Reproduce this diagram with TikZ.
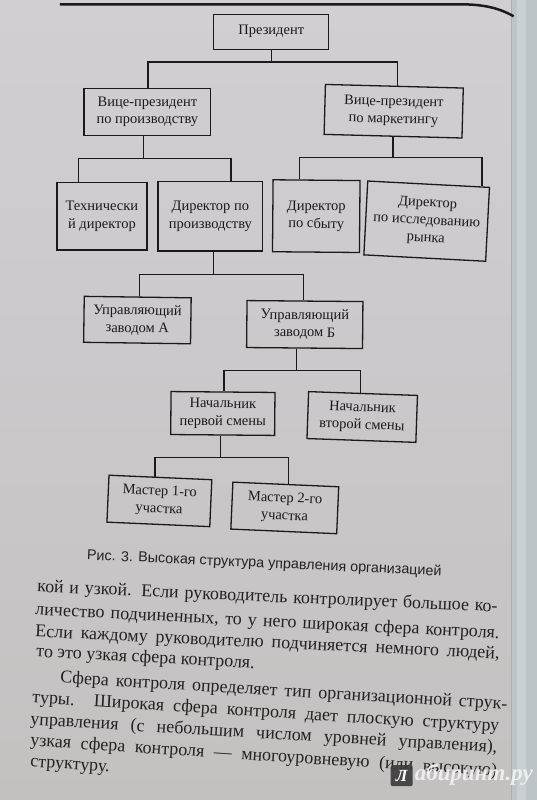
\documentclass[tikz,border=0pt]{standalone}
\usepackage{fontspec}
\usepackage{graphicx}
\setmainfont{Liberation Serif}
\newfontfamily\capfont{Liberation Sans}
\usetikzlibrary{calc}
\definecolor{inkc}{HTML}{1A1A1A}
\definecolor{txtc}{HTML}{222222}
\definecolor{papertop}{HTML}{D2CFD4}
\definecolor{papermid}{HTML}{D9DFE3}
\definecolor{paperbot}{HTML}{C3C1C0}
\definecolor{edgec}{HTML}{BCC4C7}
\definecolor{edgelight}{HTML}{C8D0D2}
\definecolor{edgeline}{HTML}{A8B0B3}
\definecolor{wmdark}{HTML}{3A3A3A}
\definecolor{wmlight}{HTML}{EEEEEE}
\begin{document}
\begin{tikzpicture}[x=1pt,y=1pt,
  box/.style={draw=inkc, line width=1.3pt, align=center, inner sep=0pt,
    font=\fontsize{14.5}{17.5}\selectfont, text=inkc},
  conn/.style={draw=inkc, line width=1.3pt},
  bodyline/.style={anchor=base west, inner sep=0pt,
    font=\fontsize{18}{22}\selectfont, text=txtc}]
% paper
\shade[top color=papertop, middle color=papermid, bottom color=paperbot] (0,0) rectangle (537,-800);
\fill[edgec] (512,0) rectangle (537,-800);
\fill[edgelight] (517,0) rectangle (526,-800);
\draw[edgeline, line width=0.6pt] (512,0) -- (512,-800);
\useasboundingbox (0,0) rectangle (537,-800);
% top rule
\draw[inkc, line width=2.5pt] (60,-4) -- (460,-4) .. controls (485,-4) and (500,-8) .. (514,-16);
% boxes
\node[box, minimum width=115pt, minimum height=35pt] (pres) at (271.5,-31.5) {Президент};
\node[box, minimum width=127pt, minimum height=47pt] (vp1) at (147.5,-111.5) {Вице-президент\\по производству};
\node[box, minimum width=138pt, minimum height=50pt, rotate=-1.5] (vp2) at (394,-111) {Вице-президент\\по маркетингу};
\node[box, minimum width=90pt, minimum height=68pt] (td) at (102,-216) {Технически\\й директор};
\node[box, minimum width=105pt, minimum height=70pt] (dp) at (210.5,-216) {Директор по\\производству};
\node[box, minimum width=87pt, minimum height=72pt, rotate=-0.5] (ds) at (316.5,-216) {Директор\\по сбыту};
\node[box, minimum width=122pt, minimum height=74pt, rotate=-3] (dr) at (427,-221) {Директор\\по исследованию\\рынка};
\node[box, minimum width=107pt, minimum height=46pt, rotate=-0.8] (ma) at (137.5,-320) {Управляющий\\заводом А};
\node[box, minimum width=116pt, minimum height=47pt, rotate=-0.5] (mb) at (305,-324.5) {Управляющий\\заводом Б};
\node[box, minimum width=104pt, minimum height=43pt, rotate=-0.5] (n1) at (223,-413.5) {Начальник\\первой смены};
\node[box, minimum width=109pt, minimum height=47pt, rotate=-2] (n2) at (362.5,-417) {Начальник\\второй смены};
\node[box, minimum width=103pt, minimum height=47pt, rotate=-2.5] (m1) at (159.5,-501) {Мастер 1-го\\участка};
\node[box, minimum width=106pt, minimum height=47pt, rotate=-2.5] (m2) at (285,-508) {Мастер 2-го\\участка};
% connectors
\draw[conn] ($(pres.south west)!0.504!(pres.south east)$) -- ++(0,-12) -| ($(vp1.north west)!0.504!(vp1.north east)$);
\draw[conn] ($(pres.south west)!0.504!(pres.south east)$) -- ++(0,-12) -| ($(vp2.north west)!0.522!(vp2.north east)$);
\draw[conn] ($(vp1.south west)!0.472!(vp1.south east)$) -- ++(0,-23) -| ($(td.north west)!0.244!(td.north east)$);
\draw[conn] ($(vp1.south west)!0.472!(vp1.south east)$) -- ++(0,-23) -| ($(dp.north west)!0.695!(dp.north east)$);
\draw[conn] ($(vp2.south west)!0.5!(vp2.south east)$) -- ++(0,-21) -| ($(ds.north west)!0.31!(ds.north east)$);
\draw[conn] ($(vp2.south west)!0.5!(vp2.south east)$) -- ++(0,-21) -| ($(dr.north west)!0.934!(dr.north east)$);
\draw[conn] ($(dp.south west)!0.533!(dp.south east)$) -- ++(0,-23) -| ($(ma.north west)!0.514!(ma.north east)$);
\draw[conn] ($(dp.south west)!0.533!(dp.south east)$) -- ++(0,-23) -| ($(mb.north west)!0.49!(mb.north east)$);
\draw[conn] ($(mb.south west)!0.431!(mb.south east)$) -- ++(0,-22) -| ($(n1.north west)!0.51!(n1.north east)$);
\draw[conn] ($(mb.south west)!0.431!(mb.south east)$) -- ++(0,-22) -| ($(n2.north west)!0.477!(n2.north east)$);
\draw[conn] ($(n1.south west)!0.481!(n1.south east)$) -- ++(0,-22) -| ($(m1.north west)!0.447!(m1.north east)$);
\draw[conn] ($(n1.south west)!0.481!(n1.south east)$) -- ++(0,-22) -| ($(m2.north west)!0.528!(m2.north east)$);
% caption
\node[rotate=-2.6, text=txtc, inner sep=0pt] (cap) at (264.5,-564) {\resizebox{355pt}{!}{\capfont Рис. 3. Высокая структура управления организацией}};
% body text
\node[bodyline, rotate=-2.5] (l1) at (37,-592) {\makebox[461pt][s]{кой и узкой. Если руководитель контролирует большое ко-}};
\node[bodyline, rotate=-2.9] (l2) at (35,-615) {\makebox[465pt][s]{личество подчиненных, то у него широкая сфера контроля.}};
\node[bodyline, rotate=-2.7] (l3) at (35,-637) {\makebox[465pt][s]{Если каждому руководителю подчиняется немного людей,}};
\node[bodyline, rotate=-3.0] (l4) at (36,-657) {то это узкая сфера контроля.};
\node[bodyline, rotate=-3.4] (l5) at (60,-683) {\makebox[448pt][s]{Сфера контроля определяет тип организационной струк-}};
\node[bodyline, rotate=-3.5] (l6) at (32,-703) {\makebox[468pt][s]{туры. Широкая сфера контроля дает плоскую структуру}};
\node[bodyline, rotate=-3.4] (l7) at (30,-725) {\makebox[468pt][s]{управления (с небольшим числом уровней управления),}};
\node[bodyline, rotate=-3.7] (l8) at (30,-746) {\makebox[468pt][s]{узкая сфера контроля — многоуровневую (или высокую)}};
\node[bodyline, rotate=-3.8] (l9) at (30,-767) {структуру.};
% watermark
\node[fill=wmdark, fill opacity=0.9, text opacity=1, rounded corners=2pt, minimum width=22pt, minimum height=21pt, inner sep=0pt, text=white, font=\bfseries\itshape\fontsize{17}{17}\selectfont] (wm1) at (402,-776) {Л};
\node[anchor=west, text=wmlight, inner sep=0pt] (wm2) at (415,-775) {\resizebox{118pt}{!}{\bfseries\itshape абиринт.ру}};
\end{tikzpicture}
\end{document}
